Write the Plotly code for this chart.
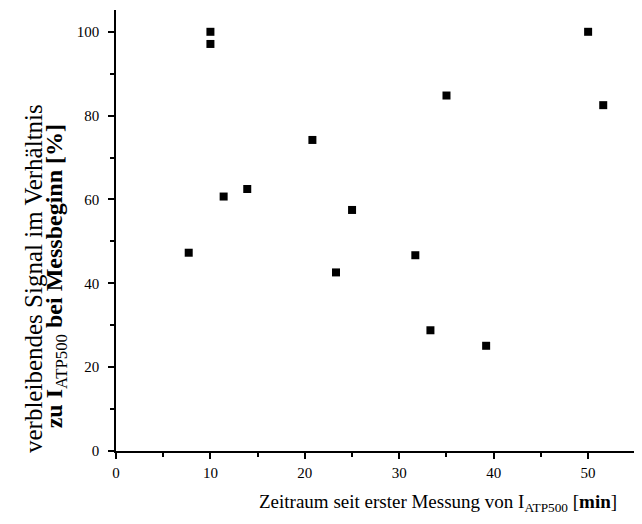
import plotly.graph_objects as go

# Data
zeit_min = [7.7, 10.0, 10.0, 11.4, 13.9, 20.8, 23.3, 25.0, 31.7, 33.3, 35.0, 39.2, 50.0, 51.6]
signal_pct = [47.3, 100.0, 97.1, 60.7, 62.5, 74.2, 42.6, 57.5, 46.7, 28.8, 84.8, 25.1, 100.0, 82.5]

x_ticks = [0, 10, 20, 30, 40, 50]
y_ticks = [0, 20, 40, 60, 80, 100]

FONT = "Liberation Serif"

fig = go.Figure()
fig.add_trace(go.Scatter(
    x=zeit_min, y=signal_pct, mode="markers",
    marker=dict(symbol="square", size=8, color="black", line=dict(width=0)),
    showlegend=False, hoverinfo="x+y",
))

axis_common = dict(
    showgrid=False, zeroline=False, showline=True, linecolor="black", linewidth=1.5,
    ticks="outside", tickcolor="black", tickwidth=1.5, ticklen=6,
    tickfont=dict(family=FONT, size=15, color="black"),
)

fig.update_xaxes(
    range=[0, 55.6], tickvals=x_ticks, ticktext=[str(v) for v in x_ticks],
    minor=dict(dtick=5, tick0=0, ticks="outside", ticklen=4, tickwidth=1.5, tickcolor="black"),
    ticklabelstandoff=1,
    **axis_common,
)
fig.update_yaxes(
    range=[0, 105.2], tickvals=y_ticks, ticktext=[str(v) for v in y_ticks],
    minor=dict(dtick=10, tick0=0, ticks="outside", ticklen=4, tickwidth=1.5, tickcolor="black"),
    ticklabelstandoff=6,
    **axis_common,
)

fig.add_annotation(
    xref="paper", yref="paper", x=0.613, y=0, yshift=-38, yanchor="top",
    xanchor="center", showarrow=False,
    text="Zeitraum seit erster Messung von I<sub>ATP500</sub> [<b>min</b>]",
    font=dict(family=FONT, size=19, color="black"),
)
fig.add_annotation(
    xref="paper", yref="paper", x=0, xshift=-83, y=0.39, xanchor="center", yanchor="middle",
    textangle=-90, showarrow=False,
    text="verbleibendes Signal im Verhältnis",
    font=dict(family=FONT, size=25, color="black"),
)
fig.add_annotation(
    xref="paper", yref="paper", x=0, xshift=-60, y=0.396, xanchor="center", yanchor="middle",
    textangle=-90, showarrow=False,
    text="<b>zu I</b><sub>ATP500</sub><b> bei Messbeginn [%]</b>",
    font=dict(family=FONT, size=24, color="black"),
)

# page body has an 8px margin, so shrink the figure and shift margins accordingly
fig.update_layout(
    width=634, height=516,
    margin=dict(l=108, r=1, t=2, b=73),
    plot_bgcolor="white", paper_bgcolor="white",
)

fig.write_html("out.html")
